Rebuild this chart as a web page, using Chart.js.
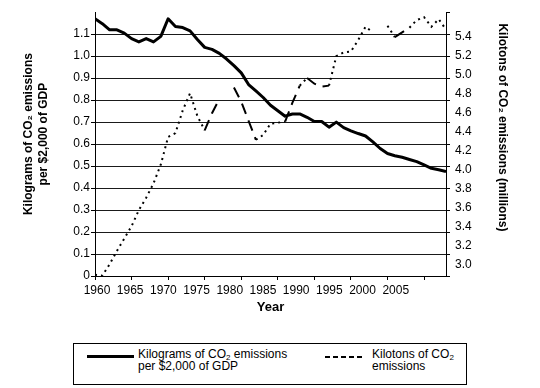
<!DOCTYPE html>
<html>
<head>
<meta charset="utf-8">
<script src="https://cdn.jsdelivr.net/npm/chart.js@4/dist/chart.umd.min.js"></script>
<style>
html,body{margin:0;padding:0;background:#fff;}
#wrap{position:relative;width:540px;height:388px;overflow:hidden;font-family:'Liberation Sans',Arial,Helvetica,sans-serif;color:#000;}
#c{position:absolute;left:0;top:0;}
#legend{position:absolute;left:73px;top:343px;width:394px;height:42px;border:1px solid #000;box-sizing:border-box;background:#fff;}
.sw{position:absolute;}
.lt{position:absolute;font-size:12px;line-height:12px;white-space:nowrap;}
.lt sub{font-size:8px;line-height:0;vertical-align:-2px;}
</style>
</head>
<body>
<div id="wrap">
<canvas id="c" width="540" height="388"></canvas>
<div id="legend">
  <div class="sw" style="left:13px;top:11px;width:47px;height:3px;background:#000"></div>
  <div class="lt" style="left:64px;top:4px">Kilograms of CO<sub>2</sub> emissions<br>per $2,000 of GDP</div>
  <div class="sw" style="left:251px;top:12px;width:40px;height:2px;background:repeating-linear-gradient(to right,#000 0 5px,transparent 5px 8px)"></div>
  <div class="lt" style="left:298px;top:4px">Kilotons of CO<sub>2</sub><br>emissions</div>
</div>
</div>
<script>
// ---- data ----
const years = [1960,1961,1962,1963,1964,1965,1966,1967,1968,1969,
               1970,1971,1972,1973,1974,1975,1976,1977,1978,1979,
               1980,1981,1982,1983,1984,1985,1986,1987,1988,1989,
               1990,1991,1992,1993,1994,1995,1996,1997,1998,1999,
               2000,2001,2002,2003,2004,2005,2006,2007,2008];
// Kilograms of CO2 emissions per $2,000 of GDP (left axis)
const kgPerGdp = [1.17,1.148,1.12,1.12,1.105,1.08,1.065,1.08,1.065,1.09,
                  1.17,1.135,1.13,1.115,1.076,1.04,1.031,1.013,0.987,0.957,
                  0.924,0.871,0.842,0.812,0.777,0.752,0.727,0.737,0.737,0.722,
                  0.703,0.703,0.677,0.700,0.675,0.660,0.648,0.637,0.610,0.580,
                  0.557,0.547,0.540,0.530,0.520,0.505,0.490,0.483,0.475];
// Kilotons of CO2 emissions, millions (right axis)
const kilotons = [2.89,2.88,3.00,3.14,3.27,3.40,3.57,3.70,3.85,4.05,
                  4.34,4.38,4.62,4.80,4.56,4.41,4.59,4.74,null,4.86,
                  4.71,4.51,4.31,4.36,4.48,4.49,4.50,4.70,4.88,4.96,
                  4.90,4.87,4.88,5.19,5.23,5.24,5.36,5.50,5.44,null,
                  5.51,5.39,5.44,5.49,5.57,5.60,5.50,5.58,5.47];
const yearTicks = [1960,1965,1970,1975,1980,1985,1990,1995,2000,2005];
const leftTicks = [0,0.1,0.2,0.3,0.4,0.5,0.6,0.7,0.8,0.9,1.0,1.1];
const rightTicks = [3.0,3.2,3.4,3.6,3.8,4.0,4.2,4.4,4.6,4.8,5.0,5.2,5.4];

// ---- chart ----
Chart.defaults.font.family = "'Liberation Sans', Arial, Helvetica, sans-serif";
Chart.defaults.font.size = 12;
Chart.defaults.color = '#000';

const LEFT_MAX = 1.2;
const dashedFrom = new Set([1975,1976,1979,1980,1981,1986,1987,1989,1990,1991,2001,2002]);
const toTicks = arr => arr.map(v => ({value: v}));
const pad = n => ' '.repeat(n);

new Chart(document.getElementById('c'), {
  type: 'line',
  data: {
    datasets: [
      {
        label: 'Kilograms of CO\u2082 emissions per $2,000 of GDP',
        data: years.map((y, i) => ({x: y, y: kgPerGdp[i]})),
        xAxisID: 'x', yAxisID: 'y',
        borderColor: '#000', borderWidth: 3, borderJoinStyle: 'round',
        pointRadius: 0, tension: 0, fill: false
      },
      {
        label: 'Kilotons of CO\u2082 emissions',
        data: years.map((y, i) => ({x: y, y: kilotons[i]})),
        xAxisID: 'x', yAxisID: 'y1',
        borderColor: '#000', borderWidth: 2, borderDash: [2, 4], borderCapStyle: 'butt',
        pointRadius: 0, tension: 0, fill: false, spanGaps: false,
        segment: {
          borderDash: ctx => dashedFrom.has(years[ctx.p0DataIndex]) ? [11, 7] : undefined
        }
      }
    ]
  },
  options: {
    responsive: false,
    animation: false,
    devicePixelRatio: 1,
    layout: {padding: {top: 8, right: 0, bottom: 68, left: 0}},
    plugins: {legend: {display: false}, tooltip: {enabled: false}},
    scales: {
      x: {
        type: 'linear', axis: 'x', position: 'bottom', weight: 0,
        min: 1960, max: 2008,
        afterBuildTicks: s => { s.ticks = toTicks(yearTicks); },
        afterFit: s => { s.height = 4; },
        grid: {display: true, drawOnChartArea: false, drawTicks: true, tickLength: 4, color: '#000'},
        border: {display: true, color: '#000', width: 1},
        ticks: {display: false}
      },
      xLabels: {
        type: 'linear', axis: 'x', position: 'bottom', weight: 1,
        min: 1959.7, max: 2012.57,
        afterBuildTicks: s => { s.ticks = toTicks(yearTicks); },
        afterFit: s => { s.height = 40; },
        grid: {display: false, drawTicks: false},
        border: {display: false},
        ticks: {autoSkip: false, maxRotation: 0, padding: 3, callback: v => String(v)},
        title: {display: true, text: 'Year', font: {size: 13, weight: 'bold'}, padding: {top: 0, bottom: 5}}
      },
      y: {
        type: 'linear', axis: 'y', position: 'left',
        min: 0, max: LEFT_MAX,
        afterBuildTicks: s => { s.ticks = toTicks(leftTicks); },
        afterFit: s => { s.width = 95; },
        grid: {color: '#1a1a1a', lineWidth: 1, drawTicks: true, tickLength: 4, tickColor: '#000'},
        border: {display: true, color: '#000', width: 1},
        ticks: {padding: 1, callback: v => v === 0 ? '0' : v.toFixed(1)},
        title: {
          display: true,
          text: [pad(6) + 'Kilograms of CO\u2082 emissions', pad(6) + 'per $2,000 of GDP'],
          font: {size: 12, weight: 'bold', lineHeight: 1.25},
          padding: {top: 21, bottom: 0}
        }
      },
      y2: {
        type: 'linear', axis: 'y', position: 'right', weight: 0,
        min: 0, max: LEFT_MAX,
        afterBuildTicks: s => { s.ticks = toTicks(leftTicks.concat([LEFT_MAX])); },
        afterFit: s => { s.width = 4; },
        grid: {drawOnChartArea: false, drawTicks: true, tickLength: 4, color: '#000'},
        border: {display: true, color: '#000', width: 1},
        ticks: {display: false}
      },
      y1: {
        type: 'linear', axis: 'y', position: 'right', weight: 1,
        min: 2.876, max: 5.653,
        afterBuildTicks: s => { s.ticks = toTicks(rightTicks); },
        afterFit: s => { s.width = 90; },
        grid: {display: false, drawTicks: false},
        border: {display: false},
        ticks: {padding: 5, callback: v => v.toFixed(1)},
        title: {
          display: true,
          text: 'Kilotons of CO\u2082 emissions (millions)' + pad(10),
          font: {size: 12, weight: 'bold', lineHeight: 1.25},
          padding: {top: 30.5, bottom: 0}
        }
      }
    }
  }
});
</script>
</body>
</html>
